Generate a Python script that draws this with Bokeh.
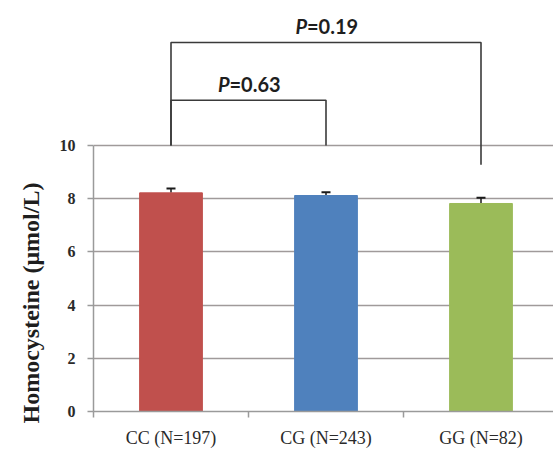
import math
from bokeh.plotting import figure
from bokeh.models import ColumnDataSource, FixedTicker, Whisker, TeeHead, Title, Range1d
from bokeh.core.properties import value
from bokeh.embed import file_html
from bokeh.resources import INLINE

# ---- data ----
categories = ["CC (N=197)", "CG (N=243)", "GG (N=82)"]
means = [8.22, 8.12, 7.82]
errors = [0.16, 0.12, 0.22]
bar_colors = ["#C0504D", "#4F81BD", "#9BBB59"]
y_ticks = [0, 2, 4, 6, 8, 10]

bracket_from = [0, 0]
bracket_to = [1, 2]
bracket_top = [11.7, 13.87]
bracket_left_end = [10.0, 10.0]
bracket_right_end = [10.0, 9.28]
p_values = ["0.63", "0.19"]

SERIF = "Times New Roman"

# ---- figure ----
centers = [i + 0.5 for i in range(len(categories))]
p = figure(frame_width=460, frame_height=411,
           x_range=Range1d(0, 460 / 155), y_range=Range1d(0, 411 / 26.6),
           output_backend="svg", toolbar_location=None,
           min_border_left=93, min_border_right=0, min_border_top=0, min_border_bottom=40)
p.outline_line_color = None
p.background_fill_color = "white"
p.xgrid.visible = False

src = ColumnDataSource(dict(x=centers, top=means, color=bar_colors,
                            upper=[m + e for m, e in zip(means, errors)]))
p.vbar(x="x", top="top", bottom=0, width=0.405, color="color", source=src)

w = Whisker(base="x", lower="top", upper="upper", source=src,
            line_color="#1a1a1a", line_width=1.5,
            lower_head=None,
            upper_head=TeeHead(size=9, line_color="#1a1a1a", line_width=2))
p.add_layout(w)

# brackets
xs, ys = [], []
for a, b, t, le, re in zip(bracket_from, bracket_to, bracket_top, bracket_left_end, bracket_right_end):
    xa, xb = centers[a], centers[b]
    xs.append([xa, xa, xb, xb])
    ys.append([le, t, t, re])
p.multi_line(xs=xs, ys=ys, line_color="#3a3a3a", line_width=1.6)

lab_x = [(centers[a] + centers[b]) / 2 for a, b in zip(bracket_from, bracket_to)]
lab_y = [t + 0.62 for t in bracket_top]
lsrc = ColumnDataSource(dict(x=lab_x, y=lab_y, p=["P"] * len(p_values),
                             v=["=" + v for v in p_values]))
p.text(x="x", y="y", text="p", source=lsrc, text_align="right", text_baseline="middle",
       x_offset=-19, text_font=value("Lato"), text_font_style="bold italic",
       text_font_size="20px", text_color="#1e1e1e")
p.text(x="x", y="y", text="v", source=lsrc, text_align="left", text_baseline="middle",
       x_offset=-19, text_font=value("Lato"), text_font_style="bold",
       text_font_size="20px", text_color="#1e1e1e")

# y axis
ya = p.yaxis[0]
ya.ticker = FixedTicker(ticks=y_ticks)
ya.bounds = (0, 10)
ya.axis_line_color = "#9a9a9a"
ya.axis_line_width = 1.5
ya.major_tick_line_color = "#9a9a9a"
ya.major_tick_line_width = 1.5
ya.major_tick_out = 6
ya.major_tick_in = 0
ya.minor_tick_line_color = None
ya.major_label_standoff = 12
ya.major_label_text_font = SERIF
ya.major_label_text_font_style = "bold"
ya.major_label_text_font_size = "16px"
ya.major_label_text_color = "#2a2a2a"

p.ygrid.grid_line_color = "#a09a9a"
p.ygrid.grid_line_width = 1.5

# x axis
xa = p.xaxis[0]
xa.ticker = FixedTicker(ticks=centers, minor_ticks=[float(i) for i in range(len(categories) + 1)])
xa.major_label_overrides = {c: lab for c, lab in zip(centers, categories)}
xa.axis_line_color = "#9a9a9a"
xa.axis_line_width = 1.5
xa.major_tick_line_color = None
xa.minor_tick_line_color = "#9a9a9a"
xa.minor_tick_line_width = 1.5
xa.minor_tick_out = 6
xa.minor_tick_in = 0
xa.major_label_standoff = 10
xa.major_label_text_font = SERIF
xa.major_label_text_font_size = "18px"
xa.major_label_text_color = "#2a2a2a"

# y axis title
p.add_layout(Title(text="Homocysteine (\u03bcmol/L)", align="left", offset=-12, standoff=26,
                   text_font=SERIF, text_font_style="bold",
                   text_font_size="24px", text_color="#1e1e1e"), "left")

open("out.html", "w").write(file_html(p, INLINE))
